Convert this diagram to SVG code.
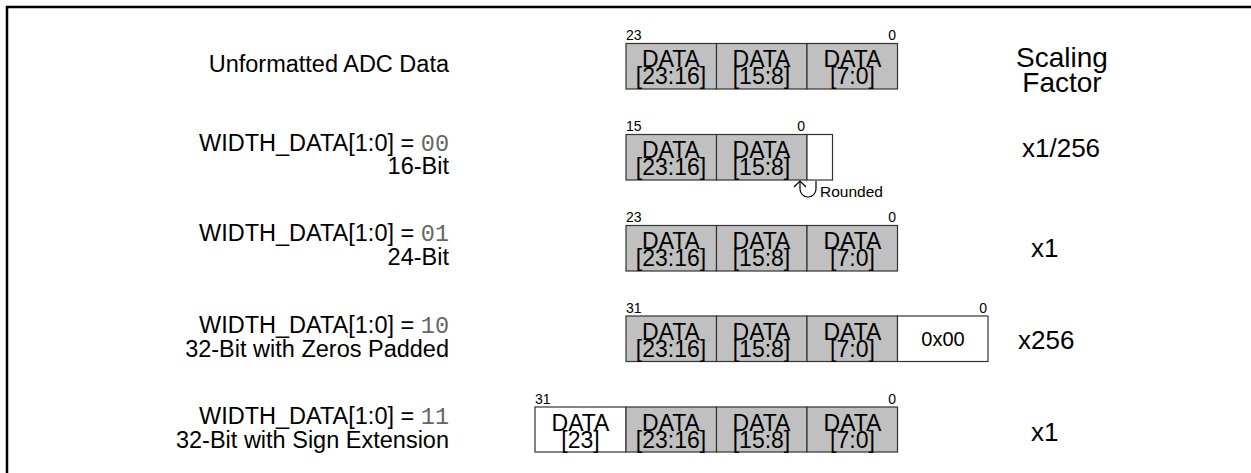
<svg xmlns="http://www.w3.org/2000/svg" width="1251" height="473" viewBox="0 0 1251 473">
<style>
text{font-family:"Liberation Sans",Arial,sans-serif;fill:#000}
.lbl{font-size:23.5px;text-anchor:end}
.mono{font-family:"Liberation Mono","Courier New",monospace;fill:#666;font-weight:300}
.cell{fill:#c0c0c0;stroke:#333;stroke-width:1.2}
.wcell{fill:#fff;stroke:#333;stroke-width:1.2}
.dt{font-size:23px;text-anchor:middle}
.bit{font-size:14px}
.bitr{font-size:14px;text-anchor:end}
.sf{font-size:26px}
</style>
<path d="M7,473 V7 H1251" fill="none" stroke="#000" stroke-width="2.5"/>

<g id="labels">
<text class="lbl" x="449" y="72">Unformatted ADC Data</text>
<text class="lbl" x="449" y="151">WIDTH_DATA[1:0] = <tspan class="mono">00</tspan></text>
<text class="lbl" x="449" y="174">16-Bit</text>
<text class="lbl" x="449" y="241">WIDTH_DATA[1:0] = <tspan class="mono">01</tspan></text>
<text class="lbl" x="449" y="265">24-Bit</text>
<text class="lbl" x="449" y="333">WIDTH_DATA[1:0] = <tspan class="mono">10</tspan></text>
<text class="lbl" x="449" y="357">32-Bit with Zeros Padded</text>
<text class="lbl" x="449" y="424">WIDTH_DATA[1:0] = <tspan class="mono">11</tspan></text>
<text class="lbl" x="449" y="448">32-Bit with Sign Extension</text>
</g>

<g id="row1">
<rect class="cell" x="626" y="43.5" width="90.5" height="45.5"/>
<rect class="cell" x="716.5" y="43.5" width="90.5" height="45.5"/>
<rect class="cell" x="807" y="43.5" width="90.5" height="45.5"/>
<text class="dt" x="671" y="67">DATA</text><text class="dt" x="671" y="84">[23:16]</text>
<text class="dt" x="761.5" y="67">DATA</text><text class="dt" x="761.5" y="84">[15:8]</text>
<text class="dt" x="852.5" y="67">DATA</text><text class="dt" x="852.5" y="84">[7:0]</text>
<text class="bit" x="626" y="40">23</text>
<text class="bitr" x="896" y="40">0</text>
</g>

<g id="row2">
<rect class="cell" x="626" y="134.5" width="90.5" height="45.5"/>
<rect class="cell" x="716.5" y="134.5" width="90.5" height="45.5"/>
<rect class="wcell" x="807" y="134.5" width="25.5" height="45.5"/>
<text class="dt" x="671" y="158">DATA</text><text class="dt" x="671" y="175">[23:16]</text>
<text class="dt" x="761.5" y="158">DATA</text><text class="dt" x="761.5" y="175">[15:8]</text>
<text class="bit" x="626" y="131">15</text>
<text class="bitr" x="805" y="131">0</text>
</g>

<g id="row3">
<rect class="cell" x="626" y="225.5" width="90.5" height="45.5"/>
<rect class="cell" x="716.5" y="225.5" width="90.5" height="45.5"/>
<rect class="cell" x="807" y="225.5" width="90.5" height="45.5"/>
<text class="dt" x="671" y="249">DATA</text><text class="dt" x="671" y="266">[23:16]</text>
<text class="dt" x="761.5" y="249">DATA</text><text class="dt" x="761.5" y="266">[15:8]</text>
<text class="dt" x="852.5" y="249">DATA</text><text class="dt" x="852.5" y="266">[7:0]</text>
<text class="bit" x="626" y="222">23</text>
<text class="bitr" x="896" y="222">0</text>
</g>

<g id="row4">
<rect class="cell" x="626" y="316" width="90.5" height="45.5"/>
<rect class="cell" x="716.5" y="316" width="90.5" height="45.5"/>
<rect class="cell" x="807" y="316" width="90.5" height="45.5"/>
<rect class="wcell" x="897.5" y="316" width="90.5" height="45.5"/>
<text class="dt" x="671" y="339.5">DATA</text><text class="dt" x="671" y="356.5">[23:16]</text>
<text class="dt" x="761.5" y="339.5">DATA</text><text class="dt" x="761.5" y="356.5">[15:8]</text>
<text class="dt" x="852.5" y="339.5">DATA</text><text class="dt" x="852.5" y="356.5">[7:0]</text>
<text x="943" y="346" font-size="20" text-anchor="middle">0x00</text>
<text class="bit" x="626" y="312.5">31</text>
<text class="bitr" x="987" y="312.5">0</text>
</g>

<g id="row5">
<rect class="wcell" x="535" y="407" width="91" height="45"/>
<rect class="cell" x="626" y="407" width="90.5" height="45"/>
<rect class="cell" x="716.5" y="407" width="90.5" height="45"/>
<rect class="cell" x="807" y="407" width="90.5" height="45"/>
<text class="dt" x="580.5" y="430.5">DATA</text><text class="dt" x="580.5" y="447.5">[23]</text>
<text class="dt" x="671" y="430.5">DATA</text><text class="dt" x="671" y="447.5">[23:16]</text>
<text class="dt" x="761.5" y="430.5">DATA</text><text class="dt" x="761.5" y="447.5">[15:8]</text>
<text class="dt" x="852.5" y="430.5">DATA</text><text class="dt" x="852.5" y="447.5">[7:0]</text>
<text class="bit" x="535" y="403.5">31</text>
<text class="bitr" x="896" y="403.5">0</text>
</g>

<g id="connectors">
<path d="M800,181 V189 A8,8 0 0 0 816,189 V181" fill="none" stroke="#000" stroke-width="1.2"/>
<path d="M794,187 L800,181 L806,187" fill="none" stroke="#000" stroke-width="1.2"/>
</g>
<text x="820" y="197" font-size="15.5">Rounded</text>

<g id="scaling">
<text x="1062" y="67" font-size="28" text-anchor="middle">Scaling</text>
<text x="1062" y="92" font-size="28" text-anchor="middle">Factor</text>
<text class="sf" x="1022" y="157">x1/256</text>
<text class="sf" x="1031" y="257">x1</text>
<text class="sf" x="1018" y="349">x256</text>
<text class="sf" x="1031" y="441">x1</text>
</g>
</svg>
